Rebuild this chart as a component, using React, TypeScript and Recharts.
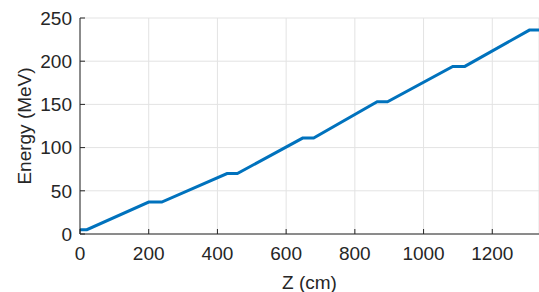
import React from 'react';
import { LineChart, Line, XAxis, YAxis, CartesianGrid } from 'recharts';

// beam position along the accelerator (cm) and kinetic energy (MeV)
const zCm = [0, 20, 200, 238, 428, 458, 648, 680, 865, 895, 1085, 1120, 1308, 1336];
const energyMeV = [5, 5, 37, 37, 70, 70, 111, 111, 153, 153, 194, 194, 236, 236];

const xTicks = [0, 200, 400, 600, 800, 1000, 1200];
const yTicks = [0, 50, 100, 150, 200, 250];

const data = zCm.map((z, i) => ({ z, energy: energyMeV[i] }));

const FONT = '"Liberation Sans", Arial, Helvetica, sans-serif';
const AXIS = '#262626';
const tickStyle = { fill: AXIS, fontSize: 19, fontFamily: FONT };

export default function App() {
  return (
    <div style={{ position: 'absolute', left: 0, top: 0, width: 539, height: 292, background: '#fff' }}>
      <LineChart
        width={539}
        height={292}
        data={data}
        margin={{ top: 18, right: 0, bottom: 0, left: 0 }}
      >
        <CartesianGrid stroke="#e3e3e3" strokeWidth={1} />
        <XAxis
          dataKey="z"
          type="number"
          domain={[0, 1336]}
          ticks={xTicks}
          allowDataOverflow
          height={58}
          stroke={AXIS}
          tickSize={-5}
          tickMargin={18}
          tick={tickStyle}
          label={{ value: 'Z (cm)', position: 'insideBottom', offset: 3, fill: AXIS, fontSize: 19, fontFamily: FONT }}
        />
        <XAxis
          xAxisId="top"
          orientation="top"
          dataKey="z"
          type="number"
          domain={[0, 1336]}
          ticks={xTicks}
          height={0}
          stroke={AXIS}
          tickSize={-5}
          tick={() => <g />}
        />
        <YAxis
          type="number"
          domain={[0, 250]}
          ticks={yTicks}
          width={80}
          stroke={AXIS}
          tickSize={-5}
          tickMargin={13}
          tick={tickStyle}
          label={{ value: 'Energy (MeV)', angle: -90, position: 'insideLeft', offset: 24, fill: AXIS, fontSize: 19, fontFamily: FONT, style: { textAnchor: 'middle' } }}
        />
        <Line
          type="linear"
          dataKey="energy"
          stroke="#0072BD"
          strokeWidth={3}
          dot={false}
          isAnimationActive={false}
        />
      </LineChart>
    </div>
  );
}
